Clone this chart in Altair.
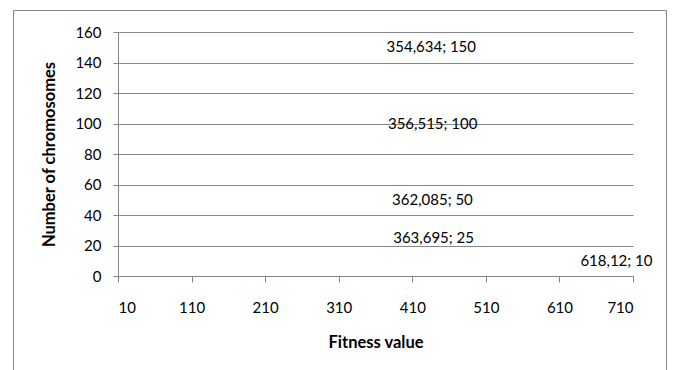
import altair as alt
import pandas as pd

# Fitness value reached for each population size (number of chromosomes)
fitness = [354.634, 356.515, 362.085, 363.695, 618.12]
chromosomes = [150, 100, 50, 25, 10]

x_ticks = [10, 110, 210, 310, 410, 510, 610, 710]
y_ticks = [0, 20, 40, 60, 80, 100, 120, 140, 160]


def fmt(v):
    # decimal comma, as in the original labels
    return f"{v:g}".replace(".", ",")


df = pd.DataFrame({
    "fitness": fitness,
    "chromosomes": chromosomes,
    "label": [f"{fmt(f)}; {c}" for f, c in zip(fitness, chromosomes)],
})

FONT = "Lato"
GREY = "#868686"

x = alt.X(
    "fitness:Q",
    scale=alt.Scale(domain=[10, 710], nice=False, zero=False),
    axis=alt.Axis(
        title="Fitness value",
        values=x_ticks,
        grid=False,
        tickSize=6,
        labelPadding=18,
        titlePadding=19,
    ),
)
y = alt.Y(
    "chromosomes:Q",
    scale=alt.Scale(domain=[0, 160], nice=False),
    axis=alt.Axis(
        title="Number of chromosomes",
        values=y_ticks,
        grid=True,
        tickSize=5,
        labelPadding=12,
        titlePadding=17,
    ),
)

labels = alt.Chart(df).mark_text(
    align="left", baseline="middle", dx=15, font=FONT, fontSize=15, color="#000000"
).encode(x=x, y=y, text="label:N")

# outer chart frame
frame = alt.Chart(alt.Data(values=[{}])).mark_rect(
    filled=False, stroke=GREY, strokeWidth=1
).encode(
    x=alt.value(-104.5), x2=alt.value(548.5),
    y=alt.value(-21.5), y2=alt.value(400),
)

chart = alt.layer(labels, frame).properties(
    width=515,
    height=244,
    autosize=alt.AutoSizeParams(type="none"),
    padding={"left": 118, "top": 32, "right": 40, "bottom": 94},
    background="white",
).configure_view(
    strokeWidth=0
).configure_axis(
    domainColor=GREY,
    tickColor=GREY,
    gridColor=GREY,
    gridOpacity=1,
    domainWidth=1,
    tickWidth=1,
    gridWidth=1,
    labelFont=FONT,
    labelFontSize=15,
    labelColor="#000000",
    titleFont=FONT,
    titleFontSize=16.5,
    titleFontWeight="bold",
    titleColor="#000000",
)

chart.save("out.html", embed_options={"renderer": "svg", "actions": False})
